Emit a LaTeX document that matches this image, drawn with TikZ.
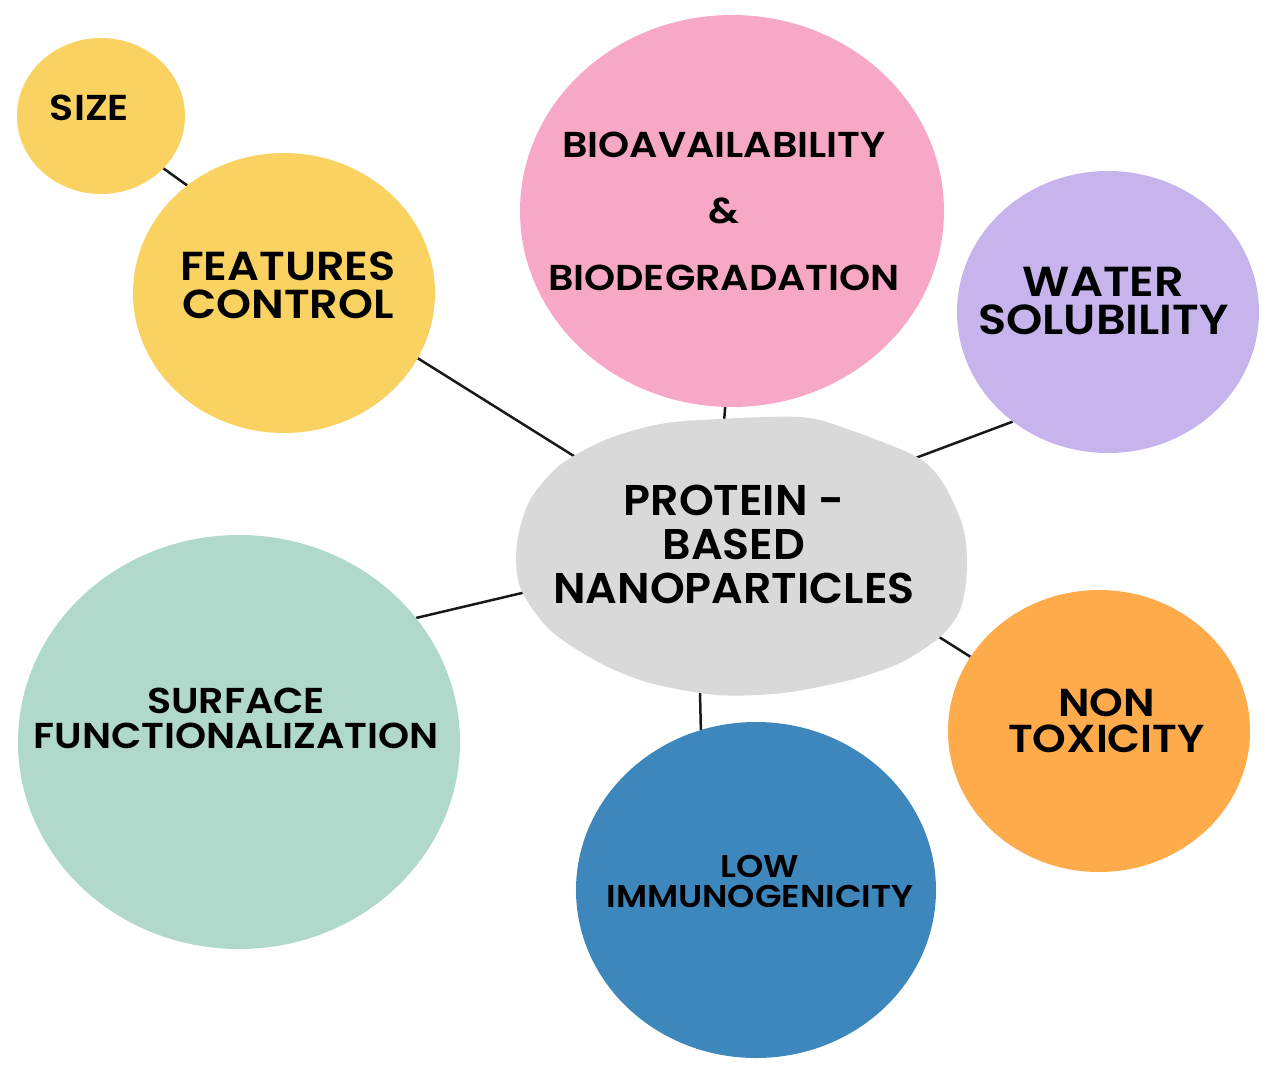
\documentclass[tikz,border=0pt]{standalone}
\usepackage{fontspec}
\usepackage{tikz}
\usetikzlibrary{shapes.geometric,backgrounds}
\newfontfamily\bubblefont{Poppins SemiBold}[FakeStretch=1.1]
\newfontfamily\corefont{Poppins SemiBold}[FakeStretch=1.03]
\definecolor{sizeyellow}{HTML}{F9D262}
\definecolor{biopink}{HTML}{F7A8C6}
\definecolor{waterlilac}{HTML}{C8B4EC}
\definecolor{coregrey}{HTML}{D9D9D9}
\definecolor{surfmint}{HTML}{B0D9CB}
\definecolor{toxorange}{HTML}{FEAB4B}
\definecolor{immblue}{HTML}{3E87BC}

\begin{document}
\begin{tikzpicture}[x=1pt,y=-1pt]
  \tikzstyle{bubble}=[ellipse,inner sep=0pt,draw=none]
  \tikzstyle{txt}=[align=center,inner sep=0pt,text=black]
  \tikzstyle{link}=[line width=2.5pt,draw=black!90]
  \useasboundingbox (0,0) rectangle (1280,1080);

  % the bubbles
  \node[bubble,fill=sizeyellow,minimum width=168,minimum height=156] (size)   at (101,116)  {};
  \node[bubble,fill=sizeyellow,minimum width=302,minimum height=280] (feat)   at (284,293)  {};
  \node[bubble,fill=biopink,minimum width=424,minimum height=392]    (bio)    at (732,211)  {};
  \node[bubble,fill=waterlilac,minimum width=302,minimum height=282] (water)  at (1108,312) {};
  \node[bubble,fill=surfmint,minimum width=442,minimum height=414]   (surf)   at (239,742)  {};
  \node[bubble,fill=toxorange,minimum width=302,minimum height=282]  (nontox) at (1099,731) {};
  \node[bubble,fill=immblue,minimum width=360,minimum height=336]    (low)    at (756,890)  {};

  % centre blob
  \fill[coregrey] plot[smooth cycle] coordinates {(517,543) (530,500) (560,465) (605,440)
    (655,425) (700,420) (800,417) (850,430) (917,457) (943,483) (963,527) (967,570)
    (960,610) (940,637) (900,663) (850,680) (783,693) (717,695) (650,683) (600,663)
    (550,630) (520,587)};
  \node[bubble,minimum width=400,minimum height=240] (core) at (740,553) {};

  \begin{scope}[on background layer]
    \draw[link] (size.-40)   -- (feat.132);
    \draw[link] (feat.-26)   -- (core.150);
    \draw[link] (bio.-92)    -- (core.98);
    \draw[link] (water.229)  -- (core.30);
    \draw[link] (surf.35)    -- (core.190);
    \draw[link] (nontox.150) -- (core.-21);
    \draw[link] (low.109)    -- (core.-109);
  \end{scope}

  % labels
  \node[txt,font={\bubblefont\fontsize{36}{36}\selectfont}] (sizet) at (89.5,107.5) {SIZE};
  \node[txt,font={\bubblefont\fontsize{40.5}{37.5}\selectfont}] (featt) at (288,285.5) {FEATURES\\CONTROL};
  \node[txt,font={\bubblefont\fontsize{36}{66.5}\selectfont}] (biot) at (724,211) {BIOAVAILABILITY\\\&\\BIODEGRADATION};
  \node[txt,font={\bubblefont\fontsize{42}{38}\selectfont}] (watert) at (1103.5,301) {WATER\\SOLUBILITY};
  \node[txt,font={\corefont\fontsize{43}{44}\selectfont}] (coret) at (734,544) {PROTEIN -\\BASED\\NANOPARTICLES};
  \node[txt,font={\bubblefont\fontsize{36}{35}\selectfont}] (surft) at (236,718) {SURFACE\\FUNCTIONALIZATION};
  \node[txt,font={\bubblefont\fontsize{39}{36}\selectfont}] (nontoxt) at (1106.5,720.5) {NON\\TOXICITY};
  \node[txt,font={\bubblefont\fontsize{31.5}{30}\selectfont}] (lowt) at (760,881) {LOW\\IMMUNOGENICITY};
\end{tikzpicture}
\end{document}
